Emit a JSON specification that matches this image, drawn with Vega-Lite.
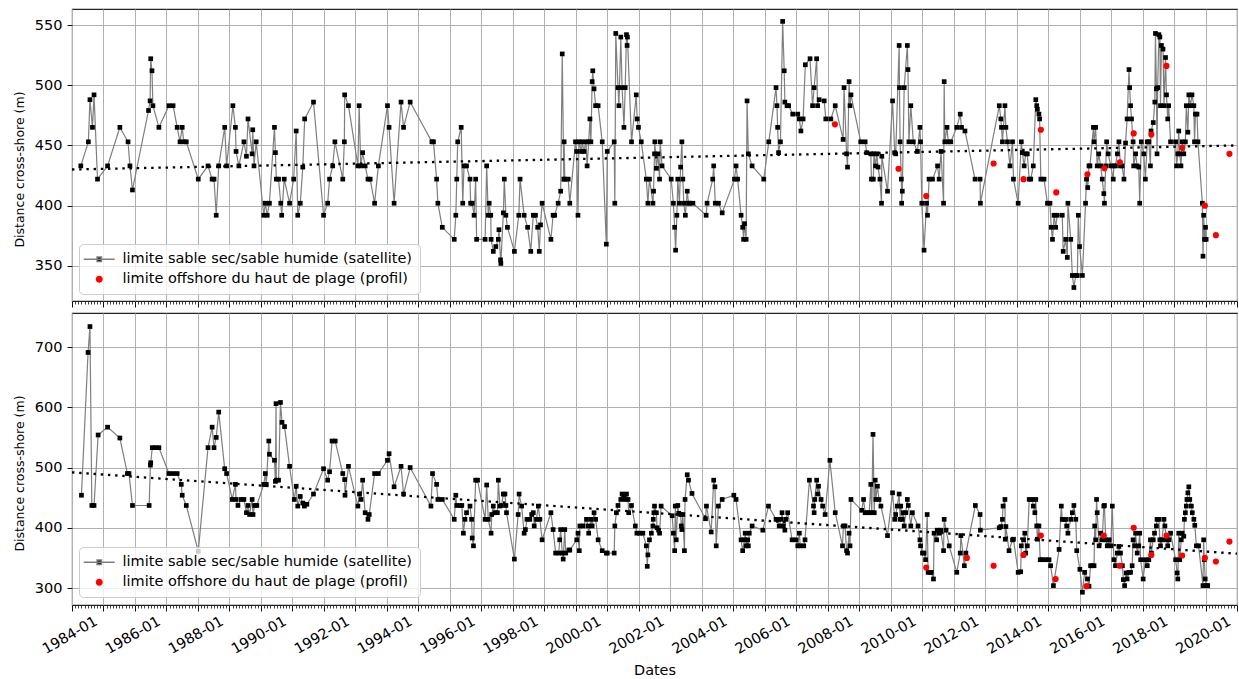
{
"$schema":"https://vega.github.io/schema/vega-lite/v6.json",
"background":"white",
"padding":{"left":12,"top":8,"right":2,"bottom":2},
"config":{"font":"DejaVu Sans","view":{"stroke":"#222222","strokeWidth":1.1},
"axis":{"labelFont":"DejaVu Sans","titleFont":"DejaVu Sans","labelColor":"#000000","titleColor":"#000000","titleFontWeight":"normal","domain":false,"tickColor":"#111111","gridColor":"#b0b0b0","gridWidth":1},
"legend":{"labelLimit":500}},
"datasets":{
"g18":[
{"t":1983.28,"d":433,"s":"sat"},{"t":1983.52,"d":453,"s":"sat"},{"t":1983.57,"d":488,"s":"sat"},{"t":1983.65,"d":465,"s":"sat"},{"t":1983.70,"d":492,"s":"sat"},{"t":1983.81,"d":422,"s":"sat"},{"t":1984.13,"d":433,"s":"sat"},{"t":1984.52,"d":465,"s":"sat"},{"t":1984.78,"d":453,"s":"sat"},{"t":1984.84,"d":433,"s":"sat"},{"t":1984.92,"d":413,"s":"sat"},{"t":1985.43,"d":479,"s":"sat"},{"t":1985.48,"d":487,"s":"sat"},{"t":1985.50,"d":522,"s":"sat"},{"t":1985.54,"d":512,"s":"sat"},{"t":1985.57,"d":483,"s":"sat"},{"t":1985.76,"d":465,"s":"sat"},{"t":1986.08,"d":483,"s":"sat"},{"t":1986.21,"d":483,"s":"sat"},{"t":1986.34,"d":465,"s":"sat"},{"t":1986.43,"d":453,"s":"sat"},{"t":1986.50,"d":465,"s":"sat"},{"t":1986.55,"d":453,"s":"sat"},{"t":1986.63,"d":453,"s":"sat"},{"t":1987.01,"d":422,"s":"sat"},{"t":1987.32,"d":433,"s":"sat"},{"t":1987.45,"d":422,"s":"sat"},{"t":1987.51,"d":422,"s":"sat"},{"t":1987.58,"d":392,"s":"sat"},{"t":1987.66,"d":433,"s":"sat"},{"t":1987.85,"d":465,"s":"sat"},{"t":1987.91,"d":433,"s":"sat"},{"t":1988.11,"d":483,"s":"sat"},{"t":1988.19,"d":465,"s":"sat"},{"t":1988.21,"d":445,"s":"sat"},{"t":1988.30,"d":433,"s":"sat"},{"t":1988.46,"d":453,"s":"sat"},{"t":1988.54,"d":441,"s":"sat"},{"t":1988.59,"d":472,"s":"sat"},{"t":1988.72,"d":443,"s":"sat"},{"t":1988.74,"d":463,"s":"sat"},{"t":1988.78,"d":433,"s":"sat"},{"t":1988.85,"d":453,"s":"sat"},{"t":1989.09,"d":392,"s":"sat"},{"t":1989.14,"d":402,"s":"sat"},{"t":1989.20,"d":392,"s":"sat"},{"t":1989.27,"d":402,"s":"sat"},{"t":1989.43,"d":465,"s":"sat"},{"t":1989.46,"d":444,"s":"sat"},{"t":1989.49,"d":422,"s":"sat"},{"t":1989.56,"d":422,"s":"sat"},{"t":1989.63,"d":402,"s":"sat"},{"t":1989.66,"d":392,"s":"sat"},{"t":1989.74,"d":422,"s":"sat"},{"t":1989.91,"d":402,"s":"sat"},{"t":1990.04,"d":422,"s":"sat"},{"t":1990.12,"d":462,"s":"sat"},{"t":1990.17,"d":392,"s":"sat"},{"t":1990.25,"d":402,"s":"sat"},{"t":1990.33,"d":432,"s":"sat"},{"t":1990.39,"d":472,"s":"sat"},{"t":1990.67,"d":486,"s":"sat"},{"t":1990.99,"d":392,"s":"sat"},{"t":1991.12,"d":402,"s":"sat"},{"t":1991.18,"d":422,"s":"sat"},{"t":1991.28,"d":433,"s":"sat"},{"t":1991.35,"d":453,"s":"sat"},{"t":1991.60,"d":422,"s":"sat"},{"t":1991.65,"d":453,"s":"sat"},{"t":1991.66,"d":492,"s":"sat"},{"t":1991.78,"d":483,"s":"sat"},{"t":1992.08,"d":433,"s":"sat"},{"t":1992.12,"d":483,"s":"sat"},{"t":1992.17,"d":433,"s":"sat"},{"t":1992.23,"d":444,"s":"sat"},{"t":1992.31,"d":433,"s":"sat"},{"t":1992.40,"d":422,"s":"sat"},{"t":1992.47,"d":422,"s":"sat"},{"t":1992.61,"d":402,"s":"sat"},{"t":1992.73,"d":433,"s":"sat"},{"t":1993.02,"d":483,"s":"sat"},{"t":1993.07,"d":465,"s":"sat"},{"t":1993.23,"d":402,"s":"sat"},{"t":1993.45,"d":486,"s":"sat"},{"t":1993.53,"d":465,"s":"sat"},{"t":1993.74,"d":486,"s":"sat"},{"t":1994.43,"d":453,"s":"sat"},{"t":1994.48,"d":453,"s":"sat"},{"t":1994.58,"d":422,"s":"sat"},{"t":1994.62,"d":402,"s":"sat"},{"t":1994.76,"d":382,"s":"sat"},{"t":1995.14,"d":372,"s":"sat"},{"t":1995.19,"d":392,"s":"sat"},{"t":1995.22,"d":422,"s":"sat"},{"t":1995.25,"d":453,"s":"sat"},{"t":1995.36,"d":465,"s":"sat"},{"t":1995.41,"d":402,"s":"sat"},{"t":1995.45,"d":433,"s":"sat"},{"t":1995.53,"d":433,"s":"sat"},{"t":1995.64,"d":422,"s":"sat"},{"t":1995.66,"d":402,"s":"sat"},{"t":1995.71,"d":402,"s":"sat"},{"t":1995.77,"d":392,"s":"sat"},{"t":1995.82,"d":422,"s":"sat"},{"t":1995.85,"d":372,"s":"sat"},{"t":1996.12,"d":372,"s":"sat"},{"t":1996.17,"d":433,"s":"sat"},{"t":1996.22,"d":392,"s":"sat"},{"t":1996.25,"d":402,"s":"sat"},{"t":1996.30,"d":392,"s":"sat"},{"t":1996.31,"d":372,"s":"sat"},{"t":1996.38,"d":362,"s":"sat"},{"t":1996.46,"d":366,"s":"sat"},{"t":1996.54,"d":372,"s":"sat"},{"t":1996.56,"d":380,"s":"sat"},{"t":1996.61,"d":355,"s":"sat"},{"t":1996.62,"d":352,"s":"sat"},{"t":1996.70,"d":394,"s":"sat"},{"t":1996.73,"d":422,"s":"sat"},{"t":1996.78,"d":392,"s":"sat"},{"t":1996.83,"d":382,"s":"sat"},{"t":1997.05,"d":362,"s":"sat"},{"t":1997.19,"d":392,"s":"sat"},{"t":1997.23,"d":422,"s":"sat"},{"t":1997.36,"d":392,"s":"sat"},{"t":1997.47,"d":382,"s":"sat"},{"t":1997.57,"d":362,"s":"sat"},{"t":1997.65,"d":392,"s":"sat"},{"t":1997.72,"d":392,"s":"sat"},{"t":1997.79,"d":382,"s":"sat"},{"t":1997.84,"d":362,"s":"sat"},{"t":1997.88,"d":384,"s":"sat"},{"t":1997.93,"d":402,"s":"sat"},{"t":1998.21,"d":372,"s":"sat"},{"t":1998.28,"d":392,"s":"sat"},{"t":1998.33,"d":392,"s":"sat"},{"t":1998.44,"d":402,"s":"sat"},{"t":1998.52,"d":412,"s":"sat"},{"t":1998.57,"d":526,"s":"sat"},{"t":1998.62,"d":422,"s":"sat"},{"t":1998.63,"d":453,"s":"sat"},{"t":1998.65,"d":422,"s":"sat"},{"t":1998.76,"d":422,"s":"sat"},{"t":1998.81,"d":402,"s":"sat"},{"t":1998.99,"d":453,"s":"sat"},{"t":1999.03,"d":445,"s":"sat"},{"t":1999.07,"d":392,"s":"sat"},{"t":1999.10,"d":453,"s":"sat"},{"t":1999.18,"d":445,"s":"sat"},{"t":1999.20,"d":453,"s":"sat"},{"t":1999.26,"d":445,"s":"sat"},{"t":1999.32,"d":453,"s":"sat"},{"t":1999.36,"d":433,"s":"sat"},{"t":1999.41,"d":453,"s":"sat"},{"t":1999.45,"d":472,"s":"sat"},{"t":1999.48,"d":453,"s":"sat"},{"t":1999.52,"d":503,"s":"sat"},{"t":1999.54,"d":512,"s":"sat"},{"t":1999.58,"d":497,"s":"sat"},{"t":1999.63,"d":483,"s":"sat"},{"t":1999.71,"d":483,"s":"sat"},{"t":1999.84,"d":453,"s":"sat"},{"t":1999.97,"d":368,"s":"sat"},{"t":2000.00,"d":445,"s":"sat"},{"t":2000.22,"d":453,"s":"sat"},{"t":2000.24,"d":402,"s":"sat"},{"t":2000.27,"d":543,"s":"sat"},{"t":2000.34,"d":498,"s":"sat"},{"t":2000.37,"d":483,"s":"sat"},{"t":2000.43,"d":540,"s":"sat"},{"t":2000.47,"d":498,"s":"sat"},{"t":2000.53,"d":465,"s":"sat"},{"t":2000.57,"d":498,"s":"sat"},{"t":2000.61,"d":542,"s":"sat"},{"t":2000.63,"d":533,"s":"sat"},{"t":2000.64,"d":540,"s":"sat"},{"t":2000.77,"d":453,"s":"sat"},{"t":2000.92,"d":492,"s":"sat"},{"t":2000.95,"d":472,"s":"sat"},{"t":2000.99,"d":465,"s":"sat"},{"t":2001.08,"d":453,"s":"sat"},{"t":2001.24,"d":422,"s":"sat"},{"t":2001.29,"d":402,"s":"sat"},{"t":2001.34,"d":422,"s":"sat"},{"t":2001.45,"d":402,"s":"sat"},{"t":2001.47,"d":412,"s":"sat"},{"t":2001.50,"d":443,"s":"sat"},{"t":2001.51,"d":453,"s":"sat"},{"t":2001.56,"d":431,"s":"sat"},{"t":2001.61,"d":443,"s":"sat"},{"t":2001.66,"d":422,"s":"sat"},{"t":2001.68,"d":453,"s":"sat"},{"t":2001.74,"d":433,"s":"sat"},{"t":2002.03,"d":422,"s":"sat"},{"t":2002.10,"d":402,"s":"sat"},{"t":2002.14,"d":382,"s":"sat"},{"t":2002.17,"d":363,"s":"sat"},{"t":2002.21,"d":392,"s":"sat"},{"t":2002.24,"d":422,"s":"sat"},{"t":2002.29,"d":402,"s":"sat"},{"t":2002.33,"d":432,"s":"sat"},{"t":2002.37,"d":453,"s":"sat"},{"t":2002.40,"d":422,"s":"sat"},{"t":2002.43,"d":402,"s":"sat"},{"t":2002.48,"d":392,"s":"sat"},{"t":2002.54,"d":412,"s":"sat"},{"t":2002.58,"d":402,"s":"sat"},{"t":2002.61,"d":402,"s":"sat"},{"t":2002.72,"d":402,"s":"sat"},{"t":2003.14,"d":392,"s":"sat"},{"t":2003.17,"d":402,"s":"sat"},{"t":2003.35,"d":422,"s":"sat"},{"t":2003.38,"d":433,"s":"sat"},{"t":2003.43,"d":402,"s":"sat"},{"t":2003.53,"d":402,"s":"sat"},{"t":2003.65,"d":394,"s":"sat"},{"t":2004.04,"d":422,"s":"sat"},{"t":2004.09,"d":433,"s":"sat"},{"t":2004.14,"d":422,"s":"sat"},{"t":2004.25,"d":392,"s":"sat"},{"t":2004.30,"d":382,"s":"sat"},{"t":2004.33,"d":372,"s":"sat"},{"t":2004.36,"d":385,"s":"sat"},{"t":2004.41,"d":372,"s":"sat"},{"t":2004.44,"d":487,"s":"sat"},{"t":2004.48,"d":443,"s":"sat"},{"t":2004.60,"d":433,"s":"sat"},{"t":2004.97,"d":422,"s":"sat"},{"t":2005.13,"d":453,"s":"sat"},{"t":2005.36,"d":498,"s":"sat"},{"t":2005.39,"d":483,"s":"sat"},{"t":2005.41,"d":465,"s":"sat"},{"t":2005.44,"d":444,"s":"sat"},{"t":2005.50,"d":453,"s":"sat"},{"t":2005.57,"d":553,"s":"sat"},{"t":2005.62,"d":512,"s":"sat"},{"t":2005.64,"d":486,"s":"sat"},{"t":2005.71,"d":483,"s":"sat"},{"t":2005.76,"d":483,"s":"sat"},{"t":2005.89,"d":476,"s":"sat"},{"t":2006.05,"d":476,"s":"sat"},{"t":2006.10,"d":472,"s":"sat"},{"t":2006.15,"d":462,"s":"sat"},{"t":2006.22,"d":472,"s":"sat"},{"t":2006.29,"d":517,"s":"sat"},{"t":2006.44,"d":522,"s":"sat"},{"t":2006.52,"d":483,"s":"sat"},{"t":2006.57,"d":498,"s":"sat"},{"t":2006.65,"d":522,"s":"sat"},{"t":2006.68,"d":483,"s":"sat"},{"t":2006.73,"d":488,"s":"sat"},{"t":2006.89,"d":487,"s":"sat"},{"t":2006.94,"d":472,"s":"sat"},{"t":2007.10,"d":472,"s":"sat"},{"t":2007.24,"d":483,"s":"sat"},{"t":2007.49,"d":455,"s":"sat"},{"t":2007.52,"d":498,"s":"sat"},{"t":2007.60,"d":443,"s":"sat"},{"t":2007.63,"d":432,"s":"sat"},{"t":2007.68,"d":503,"s":"sat"},{"t":2007.71,"d":483,"s":"sat"},{"t":2007.74,"d":492,"s":"sat"},{"t":2008.05,"d":453,"s":"sat"},{"t":2008.19,"d":453,"s":"sat"},{"t":2008.24,"d":444,"s":"sat"},{"t":2008.37,"d":443,"s":"sat"},{"t":2008.39,"d":422,"s":"sat"},{"t":2008.45,"d":422,"s":"sat"},{"t":2008.47,"d":443,"s":"sat"},{"t":2008.52,"d":433,"s":"sat"},{"t":2008.56,"d":443,"s":"sat"},{"t":2008.60,"d":432,"s":"sat"},{"t":2008.66,"d":422,"s":"sat"},{"t":2008.71,"d":402,"s":"sat"},{"t":2008.72,"d":441,"s":"sat"},{"t":2008.90,"d":412,"s":"sat"},{"t":2009.06,"d":487,"s":"sat"},{"t":2009.13,"d":444,"s":"sat"},{"t":2009.16,"d":443,"s":"sat"},{"t":2009.27,"d":533,"s":"sat"},{"t":2009.28,"d":498,"s":"sat"},{"t":2009.30,"d":453,"s":"sat"},{"t":2009.34,"d":422,"s":"sat"},{"t":2009.35,"d":402,"s":"sat"},{"t":2009.37,"d":412,"s":"sat"},{"t":2009.43,"d":498,"s":"sat"},{"t":2009.53,"d":533,"s":"sat"},{"t":2009.55,"d":513,"s":"sat"},{"t":2009.58,"d":453,"s":"sat"},{"t":2009.64,"d":483,"s":"sat"},{"t":2009.72,"d":453,"s":"sat"},{"t":2009.85,"d":445,"s":"sat"},{"t":2009.93,"d":465,"s":"sat"},{"t":2009.95,"d":453,"s":"sat"},{"t":2009.99,"d":402,"s":"sat"},{"t":2010.06,"d":363,"s":"sat"},{"t":2010.14,"d":402,"s":"sat"},{"t":2010.17,"d":392,"s":"sat"},{"t":2010.22,"d":422,"s":"sat"},{"t":2010.33,"d":422,"s":"sat"},{"t":2010.49,"d":433,"s":"sat"},{"t":2010.54,"d":422,"s":"sat"},{"t":2010.60,"d":445,"s":"sat"},{"t":2010.68,"d":402,"s":"sat"},{"t":2010.70,"d":503,"s":"sat"},{"t":2010.72,"d":453,"s":"sat"},{"t":2010.79,"d":465,"s":"sat"},{"t":2010.83,"d":453,"s":"sat"},{"t":2010.91,"d":453,"s":"sat"},{"t":2011.10,"d":465,"s":"sat"},{"t":2011.21,"d":476,"s":"sat"},{"t":2011.25,"d":465,"s":"sat"},{"t":2011.36,"d":462,"s":"sat"},{"t":2011.68,"d":422,"s":"sat"},{"t":2011.84,"d":422,"s":"sat"},{"t":2011.85,"d":402,"s":"sat"},{"t":2012.45,"d":483,"s":"sat"},{"t":2012.50,"d":472,"s":"sat"},{"t":2012.52,"d":465,"s":"sat"},{"t":2012.55,"d":453,"s":"sat"},{"t":2012.63,"d":483,"s":"sat"},{"t":2012.66,"d":465,"s":"sat"},{"t":2012.71,"d":453,"s":"sat"},{"t":2012.79,"d":433,"s":"sat"},{"t":2012.87,"d":453,"s":"sat"},{"t":2012.90,"d":422,"s":"sat"},{"t":2013.05,"d":402,"s":"sat"},{"t":2013.15,"d":453,"s":"sat"},{"t":2013.18,"d":444,"s":"sat"},{"t":2013.24,"d":433,"s":"sat"},{"t":2013.29,"d":443,"s":"sat"},{"t":2013.34,"d":443,"s":"sat"},{"t":2013.40,"d":422,"s":"sat"},{"t":2013.45,"d":422,"s":"sat"},{"t":2013.53,"d":433,"s":"sat"},{"t":2013.61,"d":488,"s":"sat"},{"t":2013.64,"d":483,"s":"sat"},{"t":2013.66,"d":480,"s":"sat"},{"t":2013.71,"d":476,"s":"sat"},{"t":2013.73,"d":472,"s":"sat"},{"t":2013.77,"d":422,"s":"sat"},{"t":2013.87,"d":422,"s":"sat"},{"t":2013.98,"d":402,"s":"sat"},{"t":2014.06,"d":402,"s":"sat"},{"t":2014.10,"d":382,"s":"sat"},{"t":2014.14,"d":372,"s":"sat"},{"t":2014.19,"d":392,"s":"sat"},{"t":2014.24,"d":382,"s":"sat"},{"t":2014.29,"d":392,"s":"sat"},{"t":2014.45,"d":392,"s":"sat"},{"t":2014.48,"d":362,"s":"sat"},{"t":2014.56,"d":372,"s":"sat"},{"t":2014.61,"d":357,"s":"sat"},{"t":2014.63,"d":402,"s":"sat"},{"t":2014.72,"d":372,"s":"sat"},{"t":2014.77,"d":342,"s":"sat"},{"t":2014.82,"d":332,"s":"sat"},{"t":2014.88,"d":342,"s":"sat"},{"t":2014.93,"d":342,"s":"sat"},{"t":2014.96,"d":392,"s":"sat"},{"t":2015.00,"d":366,"s":"sat"},{"t":2015.09,"d":342,"s":"sat"},{"t":2015.19,"d":402,"s":"sat"},{"t":2015.22,"d":422,"s":"sat"},{"t":2015.26,"d":415,"s":"sat"},{"t":2015.30,"d":433,"s":"sat"},{"t":2015.33,"d":433,"s":"sat"},{"t":2015.44,"d":465,"s":"sat"},{"t":2015.46,"d":453,"s":"sat"},{"t":2015.51,"d":465,"s":"sat"},{"t":2015.56,"d":433,"s":"sat"},{"t":2015.61,"d":443,"s":"sat"},{"t":2015.67,"d":433,"s":"sat"},{"t":2015.72,"d":422,"s":"sat"},{"t":2015.77,"d":410,"s":"sat"},{"t":2015.79,"d":402,"s":"sat"},{"t":2015.83,"d":433,"s":"sat"},{"t":2015.86,"d":453,"s":"sat"},{"t":2015.91,"d":443,"s":"sat"},{"t":2015.99,"d":433,"s":"sat"},{"t":2016.07,"d":422,"s":"sat"},{"t":2016.09,"d":433,"s":"sat"},{"t":2016.14,"d":433,"s":"sat"},{"t":2016.20,"d":443,"s":"sat"},{"t":2016.25,"d":453,"s":"sat"},{"t":2016.30,"d":433,"s":"sat"},{"t":2016.35,"d":433,"s":"sat"},{"t":2016.41,"d":422,"s":"sat"},{"t":2016.46,"d":452,"s":"sat"},{"t":2016.51,"d":472,"s":"sat"},{"t":2016.57,"d":513,"s":"sat"},{"t":2016.59,"d":498,"s":"sat"},{"t":2016.62,"d":483,"s":"sat"},{"t":2016.65,"d":472,"s":"sat"},{"t":2016.70,"d":453,"s":"sat"},{"t":2016.72,"d":433,"s":"sat"},{"t":2016.78,"d":443,"s":"sat"},{"t":2016.83,"d":433,"s":"sat"},{"t":2016.88,"d":432,"s":"sat"},{"t":2016.91,"d":402,"s":"sat"},{"t":2016.96,"d":453,"s":"sat"},{"t":2017.04,"d":443,"s":"sat"},{"t":2017.09,"d":422,"s":"sat"},{"t":2017.15,"d":453,"s":"sat"},{"t":2017.20,"d":453,"s":"sat"},{"t":2017.25,"d":433,"s":"sat"},{"t":2017.27,"d":462,"s":"sat"},{"t":2017.34,"d":469,"s":"sat"},{"t":2017.39,"d":486,"s":"sat"},{"t":2017.41,"d":543,"s":"sat"},{"t":2017.44,"d":497,"s":"sat"},{"t":2017.46,"d":443,"s":"sat"},{"t":2017.48,"d":498,"s":"sat"},{"t":2017.52,"d":542,"s":"sat"},{"t":2017.55,"d":540,"s":"sat"},{"t":2017.57,"d":483,"s":"sat"},{"t":2017.60,"d":533,"s":"sat"},{"t":2017.65,"d":530,"s":"sat"},{"t":2017.68,"d":483,"s":"sat"},{"t":2017.73,"d":523,"s":"sat"},{"t":2017.76,"d":492,"s":"sat"},{"t":2017.80,"d":472,"s":"sat"},{"t":2017.83,"d":483,"s":"sat"},{"t":2017.89,"d":453,"s":"sat"},{"t":2018.05,"d":453,"s":"sat"},{"t":2018.08,"d":433,"s":"sat"},{"t":2018.12,"d":443,"s":"sat"},{"t":2018.15,"d":462,"s":"sat"},{"t":2018.18,"d":443,"s":"sat"},{"t":2018.22,"d":433,"s":"sat"},{"t":2018.26,"d":453,"s":"sat"},{"t":2018.31,"d":443,"s":"sat"},{"t":2018.36,"d":453,"s":"sat"},{"t":2018.39,"d":483,"s":"sat"},{"t":2018.44,"d":461,"s":"sat"},{"t":2018.47,"d":492,"s":"sat"},{"t":2018.52,"d":483,"s":"sat"},{"t":2018.57,"d":492,"s":"sat"},{"t":2018.63,"d":483,"s":"sat"},{"t":2018.65,"d":453,"s":"sat"},{"t":2018.68,"d":476,"s":"sat"},{"t":2018.73,"d":476,"s":"sat"},{"t":2018.76,"d":453,"s":"sat"},{"t":2018.90,"d":402,"s":"sat"},{"t":2018.92,"d":358,"s":"sat"},{"t":2018.94,"d":392,"s":"sat"},{"t":2018.97,"d":372,"s":"sat"},{"t":2019.00,"d":382,"s":"sat"},{"t":2019.02,"d":372,"s":"sat"},
{"t":2007.23,"d":467.5,"s":"prof"},{"t":2009.25,"d":430.6,"s":"prof"},{"t":2010.13,"d":407.9,"s":"prof"},{"t":2012.27,"d":435,"s":"prof"},{"t":2013.22,"d":422,"s":"prof"},{"t":2013.77,"d":463,"s":"prof"},{"t":2014.26,"d":411,"s":"prof"},{"t":2015.25,"d":426,"s":"prof"},{"t":2015.79,"d":431,"s":"prof"},{"t":2016.28,"d":436,"s":"prof"},{"t":2016.72,"d":460,"s":"prof"},{"t":2017.28,"d":459,"s":"prof"},{"t":2017.76,"d":516,"s":"prof"},{"t":2018.26,"d":448,"s":"prof"},{"t":2018.98,"d":400,"s":"prof"},{"t":2019.33,"d":375.5,"s":"prof"},{"t":2019.76,"d":443,"s":"prof"},
{"t":1983.0,"d":430,"s":"trend"},{"t":2020.0,"d":450,"s":"trend"}
],
"ver":[
{"t":1983.30,"d":454,"s":"sat"},{"t":1983.51,"d":691,"s":"sat"},{"t":1983.57,"d":734,"s":"sat"},{"t":1983.63,"d":437,"s":"sat"},{"t":1983.70,"d":437,"s":"sat"},{"t":1983.83,"d":554,"s":"sat"},{"t":1984.13,"d":567,"s":"sat"},{"t":1984.52,"d":549,"s":"sat"},{"t":1984.76,"d":490,"s":"sat"},{"t":1984.81,"d":490,"s":"sat"},{"t":1984.92,"d":437,"s":"sat"},{"t":1985.45,"d":437,"s":"sat"},{"t":1985.49,"d":504,"s":"sat"},{"t":1985.50,"d":508,"s":"sat"},{"t":1985.55,"d":533,"s":"sat"},{"t":1985.65,"d":533,"s":"sat"},{"t":1985.76,"d":533,"s":"sat"},{"t":1986.08,"d":490,"s":"sat"},{"t":1986.21,"d":490,"s":"sat"},{"t":1986.34,"d":490,"s":"sat"},{"t":1986.47,"d":472,"s":"sat"},{"t":1986.50,"d":454,"s":"sat"},{"t":1986.63,"d":437,"s":"sat"},{"t":1987.01,"d":361,"s":"sat"},{"t":1987.32,"d":533,"s":"sat"},{"t":1987.45,"d":567,"s":"sat"},{"t":1987.51,"d":533,"s":"sat"},{"t":1987.58,"d":550,"s":"sat"},{"t":1987.66,"d":592,"s":"sat"},{"t":1987.85,"d":498,"s":"sat"},{"t":1987.91,"d":490,"s":"sat"},{"t":1988.09,"d":447,"s":"sat"},{"t":1988.19,"d":472,"s":"sat"},{"t":1988.21,"d":447,"s":"sat"},{"t":1988.27,"d":437,"s":"sat"},{"t":1988.37,"d":447,"s":"sat"},{"t":1988.46,"d":447,"s":"sat"},{"t":1988.54,"d":425,"s":"sat"},{"t":1988.59,"d":437,"s":"sat"},{"t":1988.64,"d":422,"s":"sat"},{"t":1988.72,"d":447,"s":"sat"},{"t":1988.75,"d":422,"s":"sat"},{"t":1988.80,"d":437,"s":"sat"},{"t":1988.87,"d":437,"s":"sat"},{"t":1989.09,"d":472,"s":"sat"},{"t":1989.14,"d":490,"s":"sat"},{"t":1989.17,"d":472,"s":"sat"},{"t":1989.25,"d":544,"s":"sat"},{"t":1989.27,"d":522,"s":"sat"},{"t":1989.43,"d":512,"s":"sat"},{"t":1989.46,"d":477,"s":"sat"},{"t":1989.48,"d":606,"s":"sat"},{"t":1989.49,"d":479,"s":"sat"},{"t":1989.56,"d":479,"s":"sat"},{"t":1989.62,"d":608,"s":"sat"},{"t":1989.67,"d":575,"s":"sat"},{"t":1989.75,"d":568,"s":"sat"},{"t":1989.91,"d":502,"s":"sat"},{"t":1990.06,"d":447,"s":"sat"},{"t":1990.12,"d":469,"s":"sat"},{"t":1990.17,"d":436,"s":"sat"},{"t":1990.25,"d":452,"s":"sat"},{"t":1990.33,"d":441,"s":"sat"},{"t":1990.38,"d":436,"s":"sat"},{"t":1990.46,"d":439,"s":"sat"},{"t":1990.67,"d":456,"s":"sat"},{"t":1990.99,"d":498,"s":"sat"},{"t":1991.12,"d":479,"s":"sat"},{"t":1991.18,"d":493,"s":"sat"},{"t":1991.26,"d":544,"s":"sat"},{"t":1991.36,"d":544,"s":"sat"},{"t":1991.60,"d":490,"s":"sat"},{"t":1991.66,"d":480,"s":"sat"},{"t":1991.67,"d":454,"s":"sat"},{"t":1991.78,"d":502,"s":"sat"},{"t":1992.08,"d":436,"s":"sat"},{"t":1992.13,"d":456,"s":"sat"},{"t":1992.18,"d":447,"s":"sat"},{"t":1992.23,"d":479,"s":"sat"},{"t":1992.31,"d":425,"s":"sat"},{"t":1992.40,"d":414,"s":"sat"},{"t":1992.44,"d":422,"s":"sat"},{"t":1992.61,"d":490,"s":"sat"},{"t":1992.73,"d":490,"s":"sat"},{"t":1993.02,"d":512,"s":"sat"},{"t":1993.07,"d":523,"s":"sat"},{"t":1993.23,"d":468,"s":"sat"},{"t":1993.45,"d":502,"s":"sat"},{"t":1993.53,"d":456,"s":"sat"},{"t":1993.74,"d":500,"s":"sat"},{"t":1994.40,"d":436,"s":"sat"},{"t":1994.45,"d":490,"s":"sat"},{"t":1994.58,"d":472,"s":"sat"},{"t":1994.62,"d":447,"s":"sat"},{"t":1994.76,"d":447,"s":"sat"},{"t":1995.14,"d":414,"s":"sat"},{"t":1995.19,"d":454,"s":"sat"},{"t":1995.22,"d":437,"s":"sat"},{"t":1995.32,"d":437,"s":"sat"},{"t":1995.38,"d":437,"s":"sat"},{"t":1995.43,"d":391,"s":"sat"},{"t":1995.48,"d":414,"s":"sat"},{"t":1995.53,"d":425,"s":"sat"},{"t":1995.64,"d":436,"s":"sat"},{"t":1995.69,"d":414,"s":"sat"},{"t":1995.71,"d":383,"s":"sat"},{"t":1995.75,"d":370,"s":"sat"},{"t":1995.82,"d":479,"s":"sat"},{"t":1995.88,"d":479,"s":"sat"},{"t":1996.12,"d":414,"s":"sat"},{"t":1996.17,"d":471,"s":"sat"},{"t":1996.22,"d":414,"s":"sat"},{"t":1996.31,"d":391,"s":"sat"},{"t":1996.33,"d":422,"s":"sat"},{"t":1996.38,"d":436,"s":"sat"},{"t":1996.43,"d":425,"s":"sat"},{"t":1996.51,"d":425,"s":"sat"},{"t":1996.54,"d":479,"s":"sat"},{"t":1996.59,"d":436,"s":"sat"},{"t":1996.64,"d":437,"s":"sat"},{"t":1996.70,"d":456,"s":"sat"},{"t":1996.75,"d":456,"s":"sat"},{"t":1996.78,"d":437,"s":"sat"},{"t":1996.80,"d":425,"s":"sat"},{"t":1997.05,"d":348,"s":"sat"},{"t":1997.17,"d":422,"s":"sat"},{"t":1997.20,"d":456,"s":"sat"},{"t":1997.28,"d":436,"s":"sat"},{"t":1997.36,"d":391,"s":"sat"},{"t":1997.40,"d":397,"s":"sat"},{"t":1997.45,"d":414,"s":"sat"},{"t":1997.54,"d":414,"s":"sat"},{"t":1997.60,"d":422,"s":"sat"},{"t":1997.65,"d":425,"s":"sat"},{"t":1997.68,"d":403,"s":"sat"},{"t":1997.75,"d":414,"s":"sat"},{"t":1997.81,"d":436,"s":"sat"},{"t":1997.86,"d":414,"s":"sat"},{"t":1997.93,"d":380,"s":"sat"},{"t":1998.21,"d":425,"s":"sat"},{"t":1998.28,"d":397,"s":"sat"},{"t":1998.36,"d":358,"s":"sat"},{"t":1998.46,"d":358,"s":"sat"},{"t":1998.49,"d":380,"s":"sat"},{"t":1998.52,"d":397,"s":"sat"},{"t":1998.57,"d":358,"s":"sat"},{"t":1998.60,"d":348,"s":"sat"},{"t":1998.65,"d":397,"s":"sat"},{"t":1998.68,"d":358,"s":"sat"},{"t":1998.78,"d":363,"s":"sat"},{"t":1998.81,"d":363,"s":"sat"},{"t":1999.03,"d":380,"s":"sat"},{"t":1999.07,"d":391,"s":"sat"},{"t":1999.11,"d":362,"s":"sat"},{"t":1999.13,"d":403,"s":"sat"},{"t":1999.23,"d":403,"s":"sat"},{"t":1999.34,"d":414,"s":"sat"},{"t":1999.39,"d":403,"s":"sat"},{"t":1999.41,"d":391,"s":"sat"},{"t":1999.48,"d":414,"s":"sat"},{"t":1999.52,"d":403,"s":"sat"},{"t":1999.58,"d":425,"s":"sat"},{"t":1999.63,"d":414,"s":"sat"},{"t":1999.71,"d":380,"s":"sat"},{"t":1999.84,"d":362,"s":"sat"},{"t":1999.97,"d":358,"s":"sat"},{"t":2000.00,"d":358,"s":"sat"},{"t":2000.22,"d":358,"s":"sat"},{"t":2000.24,"d":403,"s":"sat"},{"t":2000.29,"d":425,"s":"sat"},{"t":2000.34,"d":437,"s":"sat"},{"t":2000.43,"d":447,"s":"sat"},{"t":2000.47,"d":456,"s":"sat"},{"t":2000.53,"d":454,"s":"sat"},{"t":2000.57,"d":447,"s":"sat"},{"t":2000.61,"d":456,"s":"sat"},{"t":2000.66,"d":447,"s":"sat"},{"t":2000.68,"d":425,"s":"sat"},{"t":2000.77,"d":437,"s":"sat"},{"t":2000.89,"d":403,"s":"sat"},{"t":2000.94,"d":391,"s":"sat"},{"t":2001.03,"d":391,"s":"sat"},{"t":2001.13,"d":391,"s":"sat"},{"t":2001.24,"d":370,"s":"sat"},{"t":2001.27,"d":336,"s":"sat"},{"t":2001.29,"d":355,"s":"sat"},{"t":2001.34,"d":380,"s":"sat"},{"t":2001.40,"d":391,"s":"sat"},{"t":2001.45,"d":403,"s":"sat"},{"t":2001.46,"d":414,"s":"sat"},{"t":2001.48,"d":425,"s":"sat"},{"t":2001.50,"d":436,"s":"sat"},{"t":2001.56,"d":425,"s":"sat"},{"t":2001.58,"d":400,"s":"sat"},{"t":2001.63,"d":396,"s":"sat"},{"t":2001.66,"d":391,"s":"sat"},{"t":2001.71,"d":436,"s":"sat"},{"t":2002.06,"d":420,"s":"sat"},{"t":2002.10,"d":391,"s":"sat"},{"t":2002.14,"d":362,"s":"sat"},{"t":2002.16,"d":436,"s":"sat"},{"t":2002.19,"d":380,"s":"sat"},{"t":2002.24,"d":437,"s":"sat"},{"t":2002.27,"d":424,"s":"sat"},{"t":2002.33,"d":422,"s":"sat"},{"t":2002.35,"d":403,"s":"sat"},{"t":2002.37,"d":397,"s":"sat"},{"t":2002.40,"d":422,"s":"sat"},{"t":2002.45,"d":362,"s":"sat"},{"t":2002.47,"d":447,"s":"sat"},{"t":2002.54,"d":488,"s":"sat"},{"t":2002.58,"d":479,"s":"sat"},{"t":2002.69,"d":457,"s":"sat"},{"t":2003.12,"d":415,"s":"sat"},{"t":2003.15,"d":436,"s":"sat"},{"t":2003.30,"d":393,"s":"sat"},{"t":2003.38,"d":479,"s":"sat"},{"t":2003.42,"d":468,"s":"sat"},{"t":2003.46,"d":370,"s":"sat"},{"t":2003.53,"d":436,"s":"sat"},{"t":2003.65,"d":447,"s":"sat"},{"t":2004.02,"d":454,"s":"sat"},{"t":2004.09,"d":447,"s":"sat"},{"t":2004.25,"d":380,"s":"sat"},{"t":2004.30,"d":362,"s":"sat"},{"t":2004.36,"d":380,"s":"sat"},{"t":2004.38,"d":391,"s":"sat"},{"t":2004.41,"d":370,"s":"sat"},{"t":2004.46,"d":380,"s":"sat"},{"t":2004.48,"d":370,"s":"sat"},{"t":2004.51,"d":391,"s":"sat"},{"t":2004.60,"d":403,"s":"sat"},{"t":2004.94,"d":396,"s":"sat"},{"t":2005.12,"d":436,"s":"sat"},{"t":2005.36,"d":414,"s":"sat"},{"t":2005.41,"d":414,"s":"sat"},{"t":2005.46,"d":403,"s":"sat"},{"t":2005.52,"d":414,"s":"sat"},{"t":2005.55,"d":425,"s":"sat"},{"t":2005.59,"d":403,"s":"sat"},{"t":2005.64,"d":396,"s":"sat"},{"t":2005.67,"d":414,"s":"sat"},{"t":2005.73,"d":425,"s":"sat"},{"t":2005.87,"d":380,"s":"sat"},{"t":2005.99,"d":380,"s":"sat"},{"t":2006.05,"d":370,"s":"sat"},{"t":2006.10,"d":391,"s":"sat"},{"t":2006.13,"d":370,"s":"sat"},{"t":2006.24,"d":370,"s":"sat"},{"t":2006.28,"d":380,"s":"sat"},{"t":2006.42,"d":479,"s":"sat"},{"t":2006.55,"d":436,"s":"sat"},{"t":2006.57,"d":425,"s":"sat"},{"t":2006.59,"d":447,"s":"sat"},{"t":2006.65,"d":479,"s":"sat"},{"t":2006.68,"d":456,"s":"sat"},{"t":2006.71,"d":469,"s":"sat"},{"t":2006.79,"d":447,"s":"sat"},{"t":2006.84,"d":436,"s":"sat"},{"t":2006.92,"d":422,"s":"sat"},{"t":2007.07,"d":512,"s":"sat"},{"t":2007.24,"d":425,"s":"sat"},{"t":2007.47,"d":370,"s":"sat"},{"t":2007.50,"d":403,"s":"sat"},{"t":2007.55,"d":403,"s":"sat"},{"t":2007.60,"d":362,"s":"sat"},{"t":2007.63,"d":358,"s":"sat"},{"t":2007.68,"d":391,"s":"sat"},{"t":2007.71,"d":370,"s":"sat"},{"t":2007.74,"d":447,"s":"sat"},{"t":2008.08,"d":429,"s":"sat"},{"t":2008.14,"d":447,"s":"sat"},{"t":2008.19,"d":425,"s":"sat"},{"t":2008.26,"d":425,"s":"sat"},{"t":2008.32,"d":425,"s":"sat"},{"t":2008.37,"d":472,"s":"sat"},{"t":2008.40,"d":425,"s":"sat"},{"t":2008.44,"d":555,"s":"sat"},{"t":2008.48,"d":425,"s":"sat"},{"t":2008.51,"d":479,"s":"sat"},{"t":2008.53,"d":447,"s":"sat"},{"t":2008.58,"d":469,"s":"sat"},{"t":2008.63,"d":447,"s":"sat"},{"t":2008.69,"d":436,"s":"sat"},{"t":2008.90,"d":387,"s":"sat"},{"t":2009.06,"d":458,"s":"sat"},{"t":2009.13,"d":414,"s":"sat"},{"t":2009.16,"d":422,"s":"sat"},{"t":2009.21,"d":436,"s":"sat"},{"t":2009.27,"d":456,"s":"sat"},{"t":2009.30,"d":414,"s":"sat"},{"t":2009.32,"d":436,"s":"sat"},{"t":2009.37,"d":414,"s":"sat"},{"t":2009.40,"d":425,"s":"sat"},{"t":2009.43,"d":403,"s":"sat"},{"t":2009.48,"d":425,"s":"sat"},{"t":2009.53,"d":447,"s":"sat"},{"t":2009.56,"d":437,"s":"sat"},{"t":2009.64,"d":403,"s":"sat"},{"t":2009.69,"d":425,"s":"sat"},{"t":2009.87,"d":403,"s":"sat"},{"t":2009.93,"d":380,"s":"sat"},{"t":2009.95,"d":370,"s":"sat"},{"t":2010.01,"d":358,"s":"sat"},{"t":2010.06,"d":358,"s":"sat"},{"t":2010.11,"d":347,"s":"sat"},{"t":2010.16,"d":422,"s":"sat"},{"t":2010.19,"d":326,"s":"sat"},{"t":2010.25,"d":326,"s":"sat"},{"t":2010.29,"d":326,"s":"sat"},{"t":2010.36,"d":315,"s":"sat"},{"t":2010.38,"d":391,"s":"sat"},{"t":2010.46,"d":380,"s":"sat"},{"t":2010.48,"d":396,"s":"sat"},{"t":2010.54,"d":391,"s":"sat"},{"t":2010.59,"d":396,"s":"sat"},{"t":2010.68,"d":362,"s":"sat"},{"t":2010.70,"d":414,"s":"sat"},{"t":2010.76,"d":396,"s":"sat"},{"t":2010.86,"d":370,"s":"sat"},{"t":2011.10,"d":326,"s":"sat"},{"t":2011.21,"d":358,"s":"sat"},{"t":2011.23,"d":387,"s":"sat"},{"t":2011.34,"d":337,"s":"sat"},{"t":2011.39,"d":358,"s":"sat"},{"t":2011.69,"d":437,"s":"sat"},{"t":2011.84,"d":422,"s":"sat"},{"t":2011.85,"d":396,"s":"sat"},{"t":2012.45,"d":400,"s":"sat"},{"t":2012.50,"d":402,"s":"sat"},{"t":2012.55,"d":414,"s":"sat"},{"t":2012.57,"d":436,"s":"sat"},{"t":2012.63,"d":447,"s":"sat"},{"t":2012.64,"d":381,"s":"sat"},{"t":2012.66,"d":402,"s":"sat"},{"t":2012.76,"d":362,"s":"sat"},{"t":2012.87,"d":380,"s":"sat"},{"t":2012.90,"d":381,"s":"sat"},{"t":2013.05,"d":326,"s":"sat"},{"t":2013.13,"d":327,"s":"sat"},{"t":2013.15,"d":370,"s":"sat"},{"t":2013.22,"d":380,"s":"sat"},{"t":2013.26,"d":391,"s":"sat"},{"t":2013.29,"d":358,"s":"sat"},{"t":2013.34,"d":370,"s":"sat"},{"t":2013.40,"d":447,"s":"sat"},{"t":2013.50,"d":447,"s":"sat"},{"t":2013.53,"d":436,"s":"sat"},{"t":2013.58,"d":425,"s":"sat"},{"t":2013.61,"d":447,"s":"sat"},{"t":2013.64,"d":403,"s":"sat"},{"t":2013.66,"d":381,"s":"sat"},{"t":2013.71,"d":403,"s":"sat"},{"t":2013.75,"d":347,"s":"sat"},{"t":2013.82,"d":347,"s":"sat"},{"t":2013.93,"d":347,"s":"sat"},{"t":2014.03,"d":347,"s":"sat"},{"t":2014.08,"d":337,"s":"sat"},{"t":2014.17,"d":304,"s":"sat"},{"t":2014.35,"d":364,"s":"sat"},{"t":2014.42,"d":436,"s":"sat"},{"t":2014.45,"d":414,"s":"sat"},{"t":2014.51,"d":414,"s":"sat"},{"t":2014.56,"d":414,"s":"sat"},{"t":2014.59,"d":403,"s":"sat"},{"t":2014.63,"d":391,"s":"sat"},{"t":2014.72,"d":414,"s":"sat"},{"t":2014.77,"d":425,"s":"sat"},{"t":2014.82,"d":437,"s":"sat"},{"t":2014.88,"d":414,"s":"sat"},{"t":2014.91,"d":362,"s":"sat"},{"t":2015.01,"d":331,"s":"sat"},{"t":2015.09,"d":293,"s":"sat"},{"t":2015.16,"d":326,"s":"sat"},{"t":2015.25,"d":315,"s":"sat"},{"t":2015.30,"d":303,"s":"sat"},{"t":2015.35,"d":337,"s":"sat"},{"t":2015.40,"d":337,"s":"sat"},{"t":2015.46,"d":337,"s":"sat"},{"t":2015.48,"d":403,"s":"sat"},{"t":2015.51,"d":380,"s":"sat"},{"t":2015.54,"d":447,"s":"sat"},{"t":2015.56,"d":425,"s":"sat"},{"t":2015.62,"d":370,"s":"sat"},{"t":2015.67,"d":391,"s":"sat"},{"t":2015.72,"d":380,"s":"sat"},{"t":2015.77,"d":436,"s":"sat"},{"t":2015.79,"d":437,"s":"sat"},{"t":2015.83,"d":380,"s":"sat"},{"t":2015.88,"d":370,"s":"sat"},{"t":2015.94,"d":380,"s":"sat"},{"t":2015.99,"d":370,"s":"sat"},{"t":2016.04,"d":436,"s":"sat"},{"t":2016.09,"d":347,"s":"sat"},{"t":2016.14,"d":337,"s":"sat"},{"t":2016.20,"d":358,"s":"sat"},{"t":2016.25,"d":369,"s":"sat"},{"t":2016.30,"d":358,"s":"sat"},{"t":2016.36,"d":337,"s":"sat"},{"t":2016.39,"d":314,"s":"sat"},{"t":2016.43,"d":304,"s":"sat"},{"t":2016.48,"d":325,"s":"sat"},{"t":2016.51,"d":315,"s":"sat"},{"t":2016.57,"d":326,"s":"sat"},{"t":2016.62,"d":326,"s":"sat"},{"t":2016.67,"d":337,"s":"sat"},{"t":2016.70,"d":380,"s":"sat"},{"t":2016.75,"d":370,"s":"sat"},{"t":2016.78,"d":391,"s":"sat"},{"t":2016.83,"d":358,"s":"sat"},{"t":2016.88,"d":370,"s":"sat"},{"t":2016.91,"d":391,"s":"sat"},{"t":2016.94,"d":347,"s":"sat"},{"t":2017.02,"d":315,"s":"sat"},{"t":2017.09,"d":347,"s":"sat"},{"t":2017.15,"d":337,"s":"sat"},{"t":2017.20,"d":347,"s":"sat"},{"t":2017.25,"d":380,"s":"sat"},{"t":2017.28,"d":358,"s":"sat"},{"t":2017.34,"d":380,"s":"sat"},{"t":2017.38,"d":391,"s":"sat"},{"t":2017.44,"d":403,"s":"sat"},{"t":2017.46,"d":414,"s":"sat"},{"t":2017.52,"d":414,"s":"sat"},{"t":2017.55,"d":380,"s":"sat"},{"t":2017.57,"d":370,"s":"sat"},{"t":2017.62,"d":380,"s":"sat"},{"t":2017.68,"d":414,"s":"sat"},{"t":2017.71,"d":403,"s":"sat"},{"t":2017.76,"d":380,"s":"sat"},{"t":2017.80,"d":370,"s":"sat"},{"t":2017.84,"d":380,"s":"sat"},{"t":2017.89,"d":391,"s":"sat"},{"t":2018.05,"d":347,"s":"sat"},{"t":2018.10,"d":325,"s":"sat"},{"t":2018.12,"d":315,"s":"sat"},{"t":2018.15,"d":391,"s":"sat"},{"t":2018.18,"d":347,"s":"sat"},{"t":2018.23,"d":380,"s":"sat"},{"t":2018.26,"d":391,"s":"sat"},{"t":2018.31,"d":386,"s":"sat"},{"t":2018.33,"d":414,"s":"sat"},{"t":2018.36,"d":425,"s":"sat"},{"t":2018.39,"d":436,"s":"sat"},{"t":2018.41,"d":447,"s":"sat"},{"t":2018.44,"d":458,"s":"sat"},{"t":2018.47,"d":468,"s":"sat"},{"t":2018.50,"d":447,"s":"sat"},{"t":2018.55,"d":436,"s":"sat"},{"t":2018.58,"d":425,"s":"sat"},{"t":2018.63,"d":414,"s":"sat"},{"t":2018.66,"d":404,"s":"sat"},{"t":2018.71,"d":370,"s":"sat"},{"t":2018.78,"d":370,"s":"sat"},{"t":2018.92,"d":304,"s":"sat"},{"t":2018.94,"d":380,"s":"sat"},{"t":2018.96,"d":347,"s":"sat"},{"t":2018.99,"d":315,"s":"sat"},{"t":2019.03,"d":304,"s":"sat"},{"t":2019.07,"d":304,"s":"sat"},
{"t":2010.13,"d":334,"s":"prof"},{"t":2011.42,"d":350,"s":"prof"},{"t":2012.27,"d":337,"s":"prof"},{"t":2013.22,"d":355,"s":"prof"},{"t":2013.77,"d":387,"s":"prof"},{"t":2014.24,"d":315,"s":"prof"},{"t":2015.22,"d":303,"s":"prof"},{"t":2015.77,"d":387,"s":"prof"},{"t":2016.28,"d":337,"s":"prof"},{"t":2016.72,"d":400,"s":"prof"},{"t":2017.28,"d":355,"s":"prof"},{"t":2017.76,"d":387,"s":"prof"},{"t":2018.26,"d":354,"s":"prof"},{"t":2018.98,"d":350,"s":"prof"},{"t":2019.33,"d":344,"s":"prof"},{"t":2019.76,"d":377,"s":"prof"},
{"t":1983.0,"d":492,"s":"trend"},{"t":2020.0,"d":357,"s":"trend"}
]},
"spacing":12,
"bounds":"flush",
"resolve":{"scale":{"x":"independent","color":"independent"},"legend":{"color":"independent"}},
"vconcat":[
{"width":1165,"height":292,"data":{"name":"g18"},
"encoding":{
"x":{"field":"t","type":"quantitative","scale":{"domain":[1983,2020],"nice":false,"zero":false},
"axis":{"title":null,"labels":false,"tickCount":370,"grid":true,"gridOpacity":{"condition":{"test":"datum.value % 1 == 0","value":1},"value":0},"tickSize":{"condition":{"test":"datum.value % 1 == 0","value":6},"value":3},"tickWidth":{"condition":{"test":"datum.value % 1 == 0","value":1},"value":0.8}}},
"y":{"field":"d","type":"quantitative","scale":{"domain":[320.8,563.3],"nice":false,"zero":false},
"axis":{"values":[350,400,450,500,550],"title":"Distance cross-shore (m)","titleFontSize":12.5,"titlePadding":8,"titleY":160,"labelFontSize":14.5,"tickSize":5,"labelPadding":5,"grid":true}}},
"layer":[
{"transform":[{"filter":"datum.s == 'sat'"}],"mark":{"type":"line","color":"#7f7f7f","strokeWidth":1.2}},
{"transform":[{"filter":"datum.s == 'trend'"}],"mark":{"type":"line","color":"#000000","strokeWidth":2.3,"strokeDash":[2.4,4.8]}},
{"transform":[{"filter":"datum.s == 'sat'"}],"mark":{"type":"point","filled":true,"opacity":1,"shape":"square","size":22},
"encoding":{"color":{"field":"s","type":"nominal","scale":{"domain":["sat","prof"],"range":["#000000","#ff0000"]},
"legend":{"title":null,"orient":"none","legendX":7,"legendY":235,"direction":"vertical","labelExpr":"datum.value == 'sat' ? 'limite sable sec/sable humide (satellite)' : 'limite offshore du haut de plage (profil)'","labelFont":"DejaVu Sans","labelFontSize":14.5,"labelColor":"#000000","labelLimit":500,"labelOffset":16,"symbolOffset":5,"symbolSize":100,"rowPadding":5,"padding":8,"fillColor":"rgba(255,255,255,0.8)","strokeColor":"#cccccc","cornerRadius":4,"symbolOpacity":1,
"encode":{"symbols":{"update":{"shape":{"signal":"datum.value == 'sat' ? 'M-3.1,0L3.1,0M-0.45,-0.45L0.45,-0.45L0.45,0.45L-0.45,0.45Z' : 'M0.7,0A0.7,0.7,0,1,1,-0.7,0A0.7,0.7,0,1,1,0.7,0Z'"},"fill":{"signal":"datum.value == 'sat' ? '#000000' : '#ff0000'"},"stroke":{"signal":"datum.value == 'sat' ? '#7f7f7f' : 'transparent'"},"strokeWidth":{"value":1.3}}}}}}}},
{"transform":[{"filter":"datum.s == 'prof'"}],"mark":{"type":"point","filled":true,"opacity":1,"shape":"circle","size":38},
"encoding":{"color":{"field":"s","type":"nominal","scale":{"domain":["sat","prof"],"range":["#000000","#ff0000"]},
"legend":{"title":null,"orient":"none","legendX":7,"legendY":235,"direction":"vertical","labelExpr":"datum.value == 'sat' ? 'limite sable sec/sable humide (satellite)' : 'limite offshore du haut de plage (profil)'","labelFont":"DejaVu Sans","labelFontSize":14.5,"labelColor":"#000000","labelLimit":500,"labelOffset":16,"symbolOffset":5,"symbolSize":100,"rowPadding":5,"padding":8,"fillColor":"rgba(255,255,255,0.8)","strokeColor":"#cccccc","cornerRadius":4,"symbolOpacity":1,
"encode":{"symbols":{"update":{"shape":{"signal":"datum.value == 'sat' ? 'M-3.1,0L3.1,0M-0.45,-0.45L0.45,-0.45L0.45,0.45L-0.45,0.45Z' : 'M0.7,0A0.7,0.7,0,1,1,-0.7,0A0.7,0.7,0,1,1,0.7,0Z'"},"fill":{"signal":"datum.value == 'sat' ? '#000000' : '#ff0000'"},"stroke":{"signal":"datum.value == 'sat' ? '#7f7f7f' : 'transparent'"},"strokeWidth":{"value":1.3}}}}}}}},
{"data":{"values":[{"lab":"a"}]},"mark":{"type":"rect","fill":"white","stroke":"#000000","strokeWidth":2},
"encoding":{"x":{"datum":1984.02,"type":"quantitative"},"x2":{"datum":1984.9},"y":{"datum":556.6,"type":"quantitative"},"y2":{"datum":533.1}}},
{"data":{"values":[{"lab":"a"}]},"mark":{"type":"text","fontSize":23,"font":"DejaVu Sans","color":"#000000","align":"center","baseline":"alphabetic"},
"encoding":{"x":{"datum":1984.46,"type":"quantitative"},"y":{"datum":539,"type":"quantitative"},"text":{"field":"lab"}}},
{"data":{"values":[{"lab":"G18"}]},"mark":{"type":"text","fontSize":22.5,"font":"DejaVu Sans","fontWeight":"bold","color":"#555555","align":"right","baseline":"alphabetic"},
"encoding":{"x":{"datum":2019.72,"type":"quantitative"},"y":{"datum":542.3,"type":"quantitative"},"text":{"field":"lab"}}}
]},
{"width":1165,"height":292,"data":{"name":"ver"},
"encoding":{
"x":{"field":"t","type":"quantitative","scale":{"domain":[1983,2020],"nice":false,"zero":false},
"axis":{"title":"Dates","titleFontSize":14.4,"titlePadding":8,"tickCount":370,"grid":true,"labelExpr":"datum.value % 2 == 0 ? datum.value + '-01' : ''","labelAngle":-30,"labelAlign":"right","labelBaseline":"top","labelFontSize":14.5,"labelOverlap":false,"labelFlush":false,"labelBound":false,"labelPadding":3,"labelOffset":-11,"gridOpacity":{"condition":{"test":"datum.value % 1 == 0","value":1},"value":0},"tickSize":{"condition":{"test":"datum.value % 1 == 0","value":6},"value":3},"tickWidth":{"condition":{"test":"datum.value % 1 == 0","value":1},"value":0.8}}},
"y":{"field":"d","type":"quantitative","scale":{"domain":[271.8,756.5],"nice":false,"zero":false},
"axis":{"values":[300,400,500,600,700],"title":"Distance cross-shore (m)","titleFontSize":12.5,"titlePadding":8,"titleY":160,"labelFontSize":14.5,"tickSize":5,"labelPadding":5,"grid":true}}},
"layer":[
{"transform":[{"filter":"datum.s == 'sat'"}],"mark":{"type":"line","color":"#7f7f7f","strokeWidth":1.2}},
{"transform":[{"filter":"datum.s == 'trend'"}],"mark":{"type":"line","color":"#000000","strokeWidth":2.3,"strokeDash":[2.4,4.8]}},
{"transform":[{"filter":"datum.s == 'sat'"}],"mark":{"type":"point","filled":true,"opacity":1,"shape":"square","size":22},
"encoding":{"color":{"field":"s","type":"nominal","scale":{"domain":["sat","prof"],"range":["#000000","#ff0000"]},
"legend":{"title":null,"orient":"none","legendX":7,"legendY":234,"direction":"vertical","labelExpr":"datum.value == 'sat' ? 'limite sable sec/sable humide (satellite)' : 'limite offshore du haut de plage (profil)'","labelFont":"DejaVu Sans","labelFontSize":14.5,"labelColor":"#000000","labelLimit":500,"labelOffset":16,"symbolOffset":5,"symbolSize":100,"rowPadding":5,"padding":8,"fillColor":"rgba(255,255,255,0.8)","strokeColor":"#cccccc","cornerRadius":4,"symbolOpacity":1,
"encode":{"symbols":{"update":{"shape":{"signal":"datum.value == 'sat' ? 'M-3.1,0L3.1,0M-0.45,-0.45L0.45,-0.45L0.45,0.45L-0.45,0.45Z' : 'M0.7,0A0.7,0.7,0,1,1,-0.7,0A0.7,0.7,0,1,1,0.7,0Z'"},"fill":{"signal":"datum.value == 'sat' ? '#000000' : '#ff0000'"},"stroke":{"signal":"datum.value == 'sat' ? '#7f7f7f' : 'transparent'"},"strokeWidth":{"value":1.3}}}}}}}},
{"transform":[{"filter":"datum.s == 'prof'"}],"mark":{"type":"point","filled":true,"opacity":1,"shape":"circle","size":38},
"encoding":{"color":{"field":"s","type":"nominal","scale":{"domain":["sat","prof"],"range":["#000000","#ff0000"]},
"legend":{"title":null,"orient":"none","legendX":7,"legendY":234,"direction":"vertical","labelExpr":"datum.value == 'sat' ? 'limite sable sec/sable humide (satellite)' : 'limite offshore du haut de plage (profil)'","labelFont":"DejaVu Sans","labelFontSize":14.5,"labelColor":"#000000","labelLimit":500,"labelOffset":16,"symbolOffset":5,"symbolSize":100,"rowPadding":5,"padding":8,"fillColor":"rgba(255,255,255,0.8)","strokeColor":"#cccccc","cornerRadius":4,"symbolOpacity":1,
"encode":{"symbols":{"update":{"shape":{"signal":"datum.value == 'sat' ? 'M-3.1,0L3.1,0M-0.45,-0.45L0.45,-0.45L0.45,0.45L-0.45,0.45Z' : 'M0.7,0A0.7,0.7,0,1,1,-0.7,0A0.7,0.7,0,1,1,0.7,0Z'"},"fill":{"signal":"datum.value == 'sat' ? '#000000' : '#ff0000'"},"stroke":{"signal":"datum.value == 'sat' ? '#7f7f7f' : 'transparent'"},"strokeWidth":{"value":1.3}}}}}}}},
{"data":{"values":[{"lab":"b"}]},"mark":{"type":"rect","fill":"white","stroke":"#000000","strokeWidth":2},
"encoding":{"x":{"datum":1984.02,"type":"quantitative"},"x2":{"datum":1984.9},"y":{"datum":733.7,"type":"quantitative"},"y2":{"datum":694.5}}},
{"data":{"values":[{"lab":"b"}]},"mark":{"type":"text","fontSize":23,"font":"DejaVu Sans","color":"#000000","align":"center","baseline":"alphabetic"},
"encoding":{"x":{"datum":1984.46,"type":"quantitative"},"y":{"datum":701.7,"type":"quantitative"},"text":{"field":"lab"}}},
{"data":{"values":[{"lab":"VER"}]},"mark":{"type":"text","fontSize":22.5,"font":"DejaVu Sans","fontWeight":"bold","color":"#555555","align":"right","baseline":"alphabetic"},
"encoding":{"x":{"datum":2019.72,"type":"quantitative"},"y":{"datum":712.8,"type":"quantitative"},"text":{"field":"lab"}}}
]}
]
}
